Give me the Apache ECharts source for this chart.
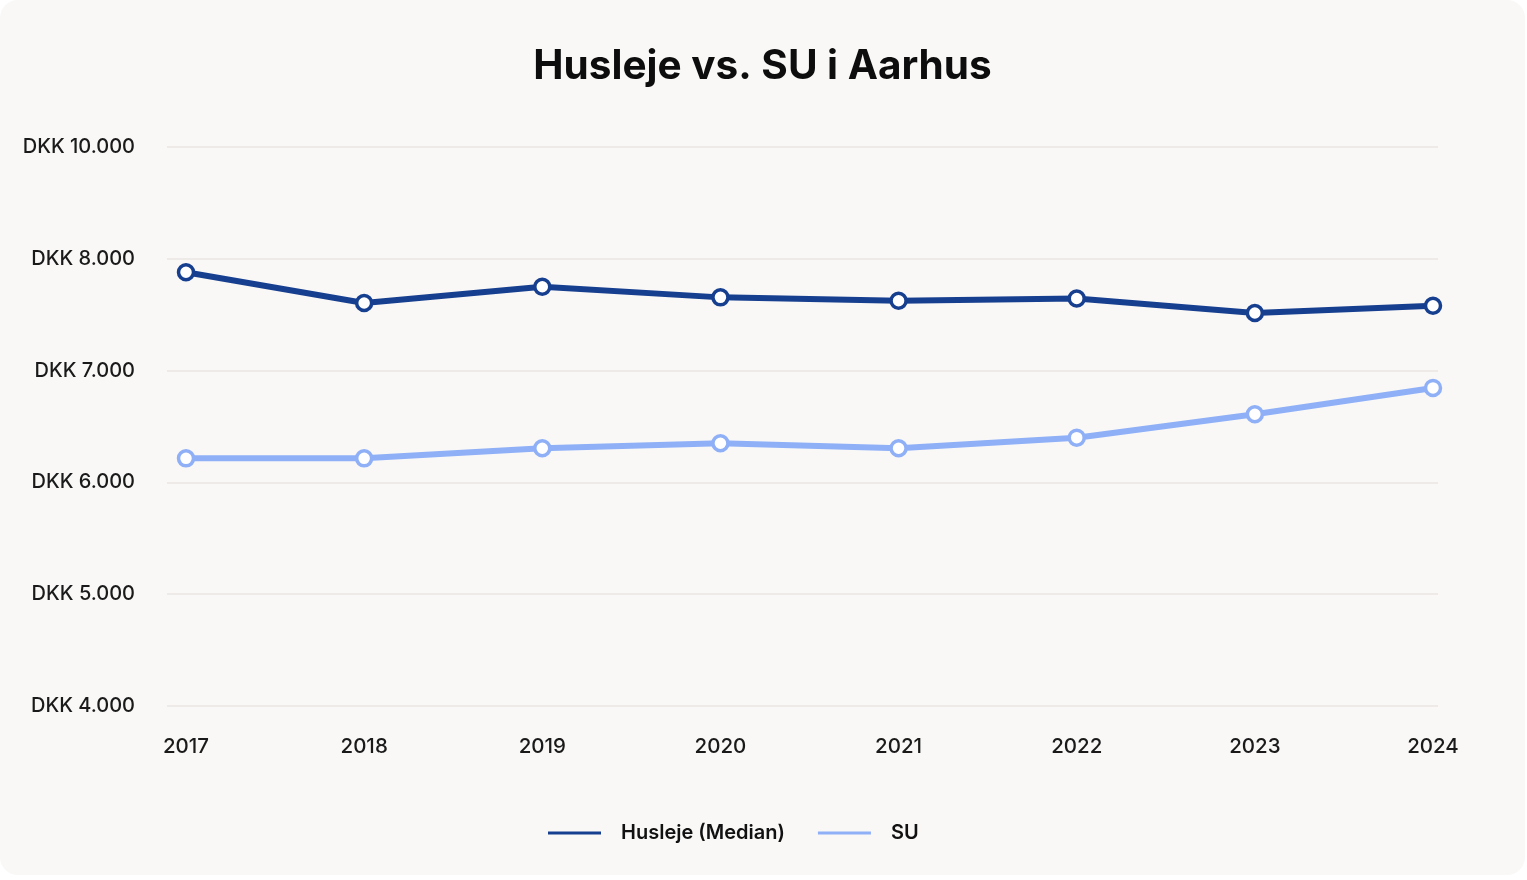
<!DOCTYPE html>
<html lang="da">
<head>
  <meta charset="utf-8">
  <title>Husleje vs. SU i Aarhus</title>
  <script type="text/javascript" src="https://fastly.jsdelivr.net/npm/echarts@6/dist/echarts.min.js"></script>
  <style type="text/css">
    * {
      margin: 0;
      padding: 0;
    }
    html, body {
      width: 100%;
      height: 100%;
      overflow: hidden;
      background: #ffffff;
    }
    #chart {
      position: absolute;
      left: 0;
      top: 0;
      width: 1525px;
      height: 875px;
      border-radius: 18px;
      background: #f9f8f7;
      overflow: hidden;
    }
  </style>
</head>
<body>
  <div id="chart"></div>
  <script type="text/javascript">
    var years = ['2017', '2018', '2019', '2020', '2021', '2022', '2023', '2024'];
    var husleje = [7880, 7605, 7750, 7655, 7625, 7645, 7515, 7580];
    var su = [6215, 6215, 6305, 6350, 6305, 6400, 6610, 6845];
    // tick values on the axis and the text shown for each (top tick reads 10.000)
    var yTicks = [4000, 5000, 6000, 7000, 8000, 9000];
    var yTickLabels = ['DKK 4.000', 'DKK 5.000', 'DKK 6.000', 'DKK 7.000', 'DKK 8.000', 'DKK 10.000'];

    var font = 'Inter, "Noto Sans", sans-serif';
    var darkBlue = '#173f8f';
    var lightBlue = '#8fb0f7';

    var yMin = yTicks[0];
    var yMax = yTicks[yTicks.length - 1];

    var option = {
      backgroundColor: 'transparent',
      animation: false,
      title: {
        text: 'Husleje vs. SU i Aarhus',
        left: 'center',
        top: 41,
        textStyle: {
          fontFamily: font,
          fontSize: 40.5,
          fontWeight: 'bold',
          color: '#0d0d0d'
        }
      },
      legend: {
        bottom: 27,
        left: 543,
        icon: 'rect',
        itemWidth: 53,
        itemHeight: 3,
        itemGap: 33,
        textStyle: {
          fontFamily: font,
          fontSize: 20,
          fontWeight: 600,
          color: '#111111',
          padding: [0, 0, 0, 15]
        },
        data: [
          { name: 'Husleje (Median)', itemStyle: { color: darkBlue, borderWidth: 0 } },
          { name: 'SU', itemStyle: { color: lightBlue, borderWidth: 0 } }
        ]
      },
      grid: [
        // grid 0 only carries the y labels and the split lines
        { left: 167, top: 147, width: 1271, height: 559 },
        // grid 1 carries the data
        { left: 186, top: 147, width: 1247, height: 559 }
      ],
      xAxis: [
        {
          type: 'category',
          gridIndex: 0,
          data: years,
          show: false
        },
        {
          type: 'category',
          gridIndex: 1,
          data: years,
          boundaryGap: false,
          axisLine: { show: false },
          axisTick: { show: false },
          axisLabel: {
            margin: 30,
            fontFamily: font,
            fontSize: 20.5,
            fontWeight: 500,
            color: '#1a1a1a'
          }
        }
      ],
      yAxis: [
        {
          type: 'value',
          gridIndex: 0,
          min: yMin,
          max: yMax,
          interval: 1000,
          axisLine: { show: false },
          axisTick: { show: false },
          splitLine: { lineStyle: { color: '#e8e6e3', width: 1.5 } },
          axisLabel: {
            margin: 32,
            fontFamily: font,
            fontSize: 20,
            fontWeight: 500,
            color: '#1a1a1a',
            formatter: function (v) {
              var i = yTicks.indexOf(v);
              return i >= 0 ? yTickLabels[i] : '';
            }
          }
        },
        {
          type: 'value',
          gridIndex: 1,
          min: yMin,
          max: yMax,
          interval: 1000,
          show: false,
          splitLine: { show: false }
        }
      ],
      series: [
        {
          name: 'Husleje (Median)',
          type: 'line',
          xAxisIndex: 1,
          yAxisIndex: 1,
          data: husleje,
          symbol: 'circle',
          symbolSize: 15,
          lineStyle: { color: darkBlue, width: 6 },
          itemStyle: { color: '#ffffff', borderColor: darkBlue, borderWidth: 3.5 },
          z: 3
        },
        {
          name: 'SU',
          type: 'line',
          xAxisIndex: 1,
          yAxisIndex: 1,
          data: su,
          symbol: 'circle',
          symbolSize: 15,
          lineStyle: { color: lightBlue, width: 6 },
          itemStyle: { color: '#ffffff', borderColor: lightBlue, borderWidth: 3.5 },
          z: 2
        }
      ]
    };

    var chart = echarts.init(document.getElementById('chart'));
    chart.setOption(option);
  </script>
</body>
</html>
